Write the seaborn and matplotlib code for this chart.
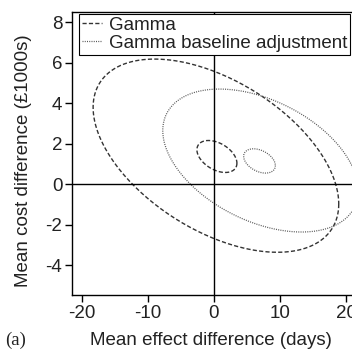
import numpy as np
import pandas as pd
import seaborn as sns
import matplotlib.pyplot as plt

# Ellipses: centre, half-range in x and y, correlation
names = ["Gamma", "Gamma", "Gamma baseline adjustment", "Gamma baseline adjustment"]
centre_x = [0.3, 0.45, 7.05, 6.9]
centre_y = [1.4, 1.36, 1.16, 1.14]
half_x = [18.6, 3.03, 14.8, 2.4]
half_y = [4.77, 0.79, 3.53, 0.6]
corr = [-0.5, -0.42, -0.42, -0.38]

x_ticks = [-20, -10, 0, 10, 20]
y_ticks = [-4, -2, 0, 2, 4, 6, 8]

sns.set_style("ticks")
plt.rcParams["font.family"] = ["Liberation Sans", "DejaVu Sans"]
plt.rcParams["axes.unicode_minus"] = False

fig = plt.figure(figsize=(3.52, 3.51), dpi=100)
ax = fig.add_axes([0.2045, 0.1584, 0.816, 0.8077])

styles = {"Gamma": dict(color="#333333", linestyle=(0, (3, 1.6)), linewidth=1.0),
          "Gamma baseline adjustment": dict(color="#555555", linestyle=(0, (0.8, 1.0)), linewidth=0.9)}

t = np.linspace(0, 2 * np.pi, 300)
seen = set()
for i, name in enumerate(names):
    d = np.arccos(corr[i])
    df = pd.DataFrame({"x": centre_x[i] + half_x[i] * np.cos(t),
                       "y": centre_y[i] + half_y[i] * np.cos(t + d)})
    lab = name if name not in seen else "_nolegend_"
    seen.add(name)
    sns.lineplot(data=df, x="x", y="y", sort=False, estimator=None, ax=ax,
                 label=lab, **styles[name])

ax.axhline(0, color="black", linewidth=1)
ax.axvline(0, color="black", linewidth=1)

fs = 13.5
ax.set_xlim(-21.5, 22)
ax.set_ylim(-5.5, 8.5)
ax.set_xticks(x_ticks)
ax.set_yticks(y_ticks)
ax.tick_params(labelsize=fs, length=5, width=1, color="black", labelcolor="#222222", pad=2)
for s in ["left", "bottom", "top", "right"]:
    ax.spines[s].set_color("black")
    ax.spines[s].set_linewidth(1)

ax.set_xlabel("Mean effect difference (days)", fontsize=fs, color="#222222")
ax.set_ylabel("Mean cost difference (£1000s)", fontsize=fs, color="#222222")
ax.xaxis.set_label_coords(0.484, -0.128)
ax.yaxis.set_label_coords(-0.14, 0.474)

leg = ax.legend(loc="upper left", bbox_to_anchor=(79 / 352, 337 / 351),
                bbox_transform=fig.transFigure, fontsize=fs, frameon=True,
                fancybox=False, edgecolor="black", framealpha=1,
                handlelength=1.1, handletextpad=0.35, borderpad=0.15,
                labelspacing=0.05, borderaxespad=0)
leg.get_frame().set_linewidth(0.8)
for txt in leg.get_texts():
    txt.set_color("#222222")

fig.text(5 / 352, 1 - 340 / 351, "(a)", fontsize=fs, family="Liberation Serif",
         va="center", ha="left", color="#222222")

fig.savefig("out.png", dpi=100)
